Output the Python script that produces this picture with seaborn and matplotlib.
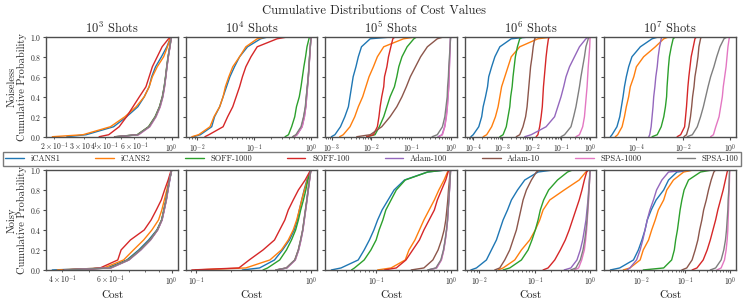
import numpy as np
import pandas as pd
import matplotlib
matplotlib.use("Agg")
import matplotlib.pyplot as plt
import seaborn as sns

sns.set_style("ticks")
plt.rcParams["font.family"] = ["serif"]
plt.rcParams["font.serif"] = ["cmr10", "DejaVu Serif"]
plt.rcParams["mathtext.fontset"] = "cm"
plt.rcParams["axes.formatter.use_mathtext"] = True
plt.rcParams["axes.unicode_minus"] = False

methods = ["iCANS1", "iCANS2", "SOFF-1000", "SOFF-100",
           "Adam-100", "Adam-10", "SPSA-1000", "SPSA-100"]
colors = ["#1f77b4", "#ff7f0e", "#2ca02c", "#d62728",
          "#9467bd", "#8c564b", "#e377c2", "#7f7f7f"]
shots = [3, 4, 5, 6, 7]

prob_levels = [0, 0.02, 0.1, 0.2, 0.3, 0.4, 0.5, 0.6, 0.7, 0.8, 0.9, 0.98, 1.0]

# log10(cost) at each probability level, per method
noiseless_1e3 = {
    "iCANS1": [-0.623, -0.508, -0.345, -0.268, -0.201, -0.163, -0.134, -0.119, -0.096, -0.061, -0.029, -0.010, 0.0],
    "iCANS2": [-0.709, -0.527, -0.364, -0.278, -0.211, -0.163, -0.134, -0.115, -0.086, -0.048, -0.025, -0.010, 0.0],
    "SOFF-1000": [-0.330, -0.205, -0.138, -0.099, -0.073, -0.056, -0.045, -0.037, -0.030, -0.022, -0.012, -0.004, 0.0],
    "SOFF-100": [-0.431, -0.374, -0.312, -0.268, -0.230, -0.192, -0.153, -0.134, -0.115, -0.086, -0.057, -0.019, 0.0],
    "Adam-100": [-0.320, -0.198, -0.131, -0.094, -0.069, -0.053, -0.043, -0.035, -0.028, -0.020, -0.011, -0.004, 0.0],
    "Adam-10": [-0.340, -0.203, -0.136, -0.097, -0.072, -0.055, -0.044, -0.036, -0.029, -0.021, -0.011, -0.004, 0.0],
    "SPSA-1000": [-0.325, -0.196, -0.130, -0.093, -0.068, -0.052, -0.042, -0.035, -0.028, -0.020, -0.010, -0.004, 0.0],
    "SPSA-100": [-0.335, -0.201, -0.134, -0.096, -0.071, -0.054, -0.044, -0.036, -0.029, -0.021, -0.011, -0.004, 0.0],
}
noiseless_1e4 = {
    "iCANS1": [-2.07, -1.95, -1.75, -1.70, -1.61, -1.55, -1.49, -1.43, -1.35, -1.26, -1.12, -0.89, -0.75],
    "iCANS2": [-2.10, -1.98, -1.78, -1.71, -1.61, -1.55, -1.51, -1.45, -1.38, -1.26, -1.15, -0.95, -0.78],
    "SOFF-1000": [-0.46, -0.40, -0.345, -0.29, -0.26, -0.21, -0.18, -0.155, -0.13, -0.10, -0.075, -0.04, -0.03],
    "SOFF-100": [-1.87, -1.80, -1.55, -1.47, -1.38, -1.32, -1.26, -1.21, -1.15, -1.06, -0.95, -0.60, -0.40],
    "Adam-100": [-0.31, -0.25, -0.16, -0.12, -0.095, -0.08, -0.065, -0.05, -0.038, -0.028, -0.016, -0.006, 0.0],
    "Adam-10": [-0.32, -0.26, -0.17, -0.13, -0.10, -0.086, -0.069, -0.052, -0.04, -0.029, -0.017, -0.006, 0.0],
    "SPSA-1000": [-0.30, -0.25, -0.16, -0.12, -0.095, -0.08, -0.065, -0.05, -0.038, -0.028, -0.016, -0.006, 0.0],
    "SPSA-100": [-0.33, -0.27, -0.18, -0.135, -0.105, -0.088, -0.07, -0.054, -0.041, -0.03, -0.018, -0.006, 0.0],
}
noiseless_1e5 = {
    "iCANS1": [-3.01, -2.92, -2.78, -2.67, -2.58, -2.54, -2.50, -2.46, -2.39, -2.33, -2.25, -2.03, -1.44],
    "iCANS2": [-2.80, -2.71, -2.54, -2.42, -2.33, -2.22, -2.14, -2.06, -1.95, -1.85, -1.69, -1.19, -0.85],
    "SOFF-1000": [-2.12, -1.91, -1.80, -1.69, -1.61, -1.53, -1.42, -1.36, -1.31, -1.23, -1.10, -0.93, -0.85],
    "SOFF-100": [-2.12, -1.95, -1.85, -1.81, -1.78, -1.74, -1.69, -1.67, -1.61, -1.57, -1.51, -1.46, -1.40],
    "Adam-100": [-0.32, -0.22, -0.155, -0.115, -0.088, -0.07, -0.052, -0.043, -0.035, -0.026, -0.017, -0.008, 0.0],
    "Adam-10": [-2.37, -2.03, -1.74, -1.53, -1.36, -1.23, -1.12, -1.02, -0.89, -0.76, -0.59, -0.34, -0.17],
    "SPSA-1000": [-0.30, -0.21, -0.15, -0.11, -0.085, -0.068, -0.05, -0.042, -0.034, -0.025, -0.017, -0.008, 0.0],
    "SPSA-100": [-0.47, -0.34, -0.21, -0.15, -0.12, -0.09, -0.08, -0.06, -0.05, -0.034, -0.017, -0.008, 0.0],
}
noiseless_1e6 = {
    "iCANS1": [-4.08, -4.00, -3.81, -3.71, -3.66, -3.58, -3.51, -3.47, -3.37, -3.26, -3.09, -2.70, -2.02],
    "iCANS2": [-3.66, -3.54, -3.37, -3.24, -3.15, -3.09, -3.03, -2.92, -2.81, -2.70, -2.41, -1.79, -1.22],
    "SOFF-1000": [-3.09, -2.98, -2.87, -2.81, -2.75, -2.72, -2.67, -2.64, -2.60, -2.56, -2.49, -2.41, -2.30],
    "SOFF-100": [-1.85, -1.79, -1.73, -1.68, -1.64, -1.62, -1.60, -1.57, -1.54, -1.51, -1.47, -1.43, -1.39],
    "Adam-100": [-2.24, -2.02, -1.51, -1.22, -1.11, -1.00, -0.91, -0.83, -0.71, -0.54, -0.37, -0.15, -0.03],
    "Adam-10": [-2.53, -2.41, -2.30, -2.21, -2.16, -2.13, -2.10, -2.07, -2.04, -1.99, -1.95, -1.90, -1.85],
    "SPSA-1000": [-0.49, -0.37, -0.26, -0.20, -0.17, -0.14, -0.11, -0.09, -0.07, -0.045, -0.02, -0.01, 0.0],
    "SPSA-100": [-1.00, -0.88, -0.66, -0.57, -0.49, -0.43, -0.37, -0.32, -0.26, -0.20, -0.15, -0.07, -0.02],
}
noiseless_1e7 = {
    "iCANS1": [-5.11, -5.04, -4.83, -4.71, -4.64, -4.57, -4.51, -4.43, -4.33, -4.19, -3.83, -3.33, -3.04],
    "iCANS2": [-4.90, -4.80, -4.61, -4.51, -4.43, -4.33, -4.26, -4.11, -4.00, -3.69, -3.19, -2.83, -2.61],
    "SOFF-1000": [-3.33, -3.11, -2.94, -2.83, -2.76, -2.71, -2.69, -2.66, -2.63, -2.59, -2.51, -2.43, -2.33],
    "SOFF-100": [-2.26, -2.11, -1.94, -1.90, -1.86, -1.83, -1.80, -1.76, -1.71, -1.66, -1.57, -1.50, -1.43],
    "Adam-100": [-3.47, -3.43, -3.37, -3.33, -3.29, -3.26, -3.21, -3.17, -3.11, -3.07, -3.01, -2.94, -2.90],
    "Adam-10": [-1.97, -1.86, -1.76, -1.69, -1.64, -1.60, -1.54, -1.50, -1.43, -1.37, -1.33, -1.26, -1.23],
    "SPSA-1000": [-0.83, -0.71, -0.61, -0.47, -0.40, -0.33, -0.29, -0.23, -0.17, -0.13, -0.09, -0.04, -0.01],
    "SPSA-100": [-1.83, -1.61, -1.40, -1.26, -1.14, -1.04, -0.94, -0.83, -0.69, -0.57, -0.43, -0.26, -0.11],
}

noisy_1e3 = {
    "iCANS1": [-0.434, -0.235, -0.163, -0.120, -0.084, -0.054, -0.036, -0.028, -0.020, -0.014, -0.007, -0.002, 0.0],
    "iCANS2": [-0.416, -0.247, -0.175, -0.139, -0.102, -0.072, -0.048, -0.036, -0.027, -0.018, -0.010, -0.002, 0.0],
    "SOFF-1000": [-0.385, -0.226, -0.160, -0.116, -0.080, -0.053, -0.037, -0.029, -0.021, -0.015, -0.008, -0.002, 0.0],
    "SOFF-100": [-0.330, -0.260, -0.196, -0.184, -0.150, -0.100, -0.075, -0.056, -0.038, -0.026, -0.013, -0.004, 0.0],
    "Adam-100": [-0.392, -0.220, -0.155, -0.112, -0.077, -0.051, -0.035, -0.027, -0.020, -0.014, -0.008, -0.002, 0.0],
    "Adam-10": [-0.395, -0.225, -0.158, -0.115, -0.079, -0.052, -0.036, -0.028, -0.020, -0.014, -0.008, -0.002, 0.0],
    "SPSA-1000": [-0.388, -0.221, -0.156, -0.113, -0.077, -0.051, -0.035, -0.027, -0.019, -0.013, -0.007, -0.002, 0.0],
    "SPSA-100": [-0.390, -0.223, -0.157, -0.114, -0.078, -0.052, -0.036, -0.028, -0.020, -0.014, -0.008, -0.002, 0.0],
}
noisy_1e4 = {
    "iCANS1": [-0.60, -0.45, -0.32, -0.25, -0.19, -0.148, -0.121, -0.104, -0.083, -0.062, -0.038, -0.009, 0.0],
    "iCANS2": [-1.01, -0.57, -0.36, -0.26, -0.20, -0.157, -0.127, -0.104, -0.083, -0.059, -0.033, -0.009, 0.0],
    "SOFF-1000": [-0.42, -0.38, -0.275, -0.216, -0.172, -0.136, -0.112, -0.092, -0.068, -0.047, -0.030, -0.009, 0.0],
    "SOFF-100": [-1.04, -0.63, -0.54, -0.42, -0.32, -0.275, -0.23, -0.20, -0.157, -0.112, -0.053, -0.015, 0.0],
    "Adam-100": [-0.300, -0.212, -0.140, -0.110, -0.090, -0.073, -0.061, -0.049, -0.037, -0.026, -0.015, -0.006, 0.0],
    "Adam-10": [-0.310, -0.218, -0.144, -0.113, -0.093, -0.075, -0.063, -0.051, -0.039, -0.028, -0.016, -0.006, 0.0],
    "SPSA-1000": [-0.298, -0.210, -0.138, -0.109, -0.089, -0.072, -0.060, -0.048, -0.036, -0.026, -0.014, -0.005, 0.0],
    "SPSA-100": [-0.305, -0.216, -0.142, -0.112, -0.092, -0.074, -0.062, -0.050, -0.038, -0.027, -0.015, -0.006, 0.0],
}
noisy_1e5 = {
    "iCANS1": [-1.60, -1.47, -1.24, -1.16, -1.09, -1.03, -0.98, -0.92, -0.84, -0.76, -0.62, -0.31, -0.07],
    "iCANS2": [-0.98, -0.80, -0.61, -0.56, -0.48, -0.42, -0.36, -0.29, -0.22, -0.16, -0.09, -0.044, -0.02],
    "SOFF-1000": [-1.33, -1.29, -1.16, -1.07, -1.00, -0.96, -0.91, -0.87, -0.80, -0.73, -0.61, -0.31, -0.07],
    "SOFF-100": [-0.89, -0.73, -0.60, -0.51, -0.42, -0.36, -0.29, -0.22, -0.18, -0.124, -0.067, -0.036, -0.018],
    "Adam-100": [-0.30, -0.19, -0.128, -0.095, -0.074, -0.056, -0.043, -0.035, -0.026, -0.017, -0.009, -0.004, 0.0],
    "Adam-10": [-0.53, -0.36, -0.24, -0.17, -0.124, -0.089, -0.067, -0.053, -0.04, -0.031, -0.018, -0.009, 0.0],
    "SPSA-1000": [-0.29, -0.19, -0.125, -0.093, -0.072, -0.055, -0.042, -0.034, -0.025, -0.017, -0.009, -0.004, 0.0],
    "SPSA-100": [-0.31, -0.20, -0.133, -0.098, -0.076, -0.058, -0.044, -0.036, -0.027, -0.018, -0.009, -0.004, 0.0],
}
noisy_1e6 = {
    "iCANS1": [-2.15, -2.05, -1.87, -1.78, -1.69, -1.63, -1.57, -1.49, -1.42, -1.31, -1.18, -0.94, -0.67],
    "iCANS2": [-1.66, -1.57, -1.36, -1.24, -1.09, -0.99, -0.91, -0.85, -0.73, -0.47, -0.20, -0.08, -0.036],
    "SOFF-1000": [-1.57, -1.45, -1.24, -1.12, -1.05, -0.99, -0.94, -0.90, -0.84, -0.75, -0.59, -0.41, -0.32],
    "SOFF-100": [-0.85, -0.76, -0.64, -0.54, -0.45, -0.38, -0.32, -0.26, -0.20, -0.15, -0.107, -0.066, -0.036],
    "Adam-100": [-0.47, -0.35, -0.24, -0.18, -0.137, -0.107, -0.078, -0.06, -0.042, -0.03, -0.018, -0.006, 0.0],
    "Adam-10": [-1.72, -1.63, -1.54, -1.45, -1.39, -1.33, -1.29, -1.25, -1.21, -1.15, -1.06, -0.97, -0.91],
    "SPSA-1000": [-0.29, -0.21, -0.155, -0.107, -0.084, -0.066, -0.054, -0.042, -0.03, -0.024, -0.012, -0.006, 0.0],
    "SPSA-100": [-0.35, -0.26, -0.18, -0.131, -0.10, -0.078, -0.06, -0.048, -0.036, -0.024, -0.012, -0.006, 0.0],
}
noisy_1e7 = {
    "iCANS1": [-2.69, -2.48, -2.17, -2.06, -1.98, -1.91, -1.86, -1.77, -1.66, -1.49, -1.38, -1.19, -0.82],
    "iCANS2": [-2.40, -2.25, -2.02, -1.95, -1.83, -1.76, -1.68, -1.61, -1.49, -1.42, -1.27, -1.04, -0.82],
    "SOFF-1000": [-1.95, -1.49, -1.31, -1.25, -1.22, -1.18, -1.15, -1.12, -1.08, -1.03, -0.93, -0.66, -0.40],
    "SOFF-100": [-0.85, -0.74, -0.60, -0.51, -0.44, -0.38, -0.32, -0.27, -0.21, -0.15, -0.10, -0.06, -0.04],
    "Adam-100": [-2.32, -2.25, -2.10, -2.02, -1.96, -1.91, -1.86, -1.80, -1.72, -1.65, -1.53, -1.38, -0.89],
    "Adam-10": [-1.08, -0.97, -0.85, -0.78, -0.72, -0.68, -0.63, -0.59, -0.53, -0.48, -0.42, -0.36, -0.32],
    "SPSA-1000": [-0.29, -0.196, -0.12, -0.083, -0.06, -0.045, -0.038, -0.03, -0.023, -0.015, -0.008, -0.004, 0.0],
    "SPSA-100": [-0.44, -0.32, -0.196, -0.136, -0.098, -0.075, -0.06, -0.045, -0.038, -0.023, -0.015, -0.008, 0.0],
}

rows = [
    ("Noiseless", [noiseless_1e3, noiseless_1e4, noiseless_1e5, noiseless_1e6, noiseless_1e7]),
    ("Noisy", [noisy_1e3, noisy_1e4, noisy_1e5, noisy_1e6, noisy_1e7]),
]

fig, axes = plt.subplots(2, 5, figsize=(7.47, 3.04), dpi=100, sharey=True)
fig.subplots_adjust(left=0.062, right=0.985, top=0.879, bottom=0.112,
                    wspace=0.062, hspace=0.333)

for r, (row_name, panels) in enumerate(rows):
    for c, panel in enumerate(panels):
        ax = axes[r, c]
        frame = pd.concat([
            pd.DataFrame({"cost": np.power(10.0, panel[m]), "prob": prob_levels, "method": m})
            for m in methods
        ], ignore_index=True)
        sns.lineplot(data=frame, x="cost", y="prob", hue="method", hue_order=methods,
                     palette=colors, estimator=None, sort=False, linewidth=1.0,
                     ax=ax, legend=(r == 0 and c == 0))
        ax.set_xscale("log")
        ax.set_ylim(0, 1)
        ax.set_yticks([0, 0.2, 0.4, 0.6, 0.8, 1.0])
        ax.tick_params(which="both", labelsize=5.5, color="0.3", pad=1.2)
        ax.tick_params(which="major", length=2.5, width=0.8)
        ax.tick_params(which="minor", length=1.5, width=0.6)
        for sp in ax.spines.values():
            sp.set_color("0.3")
            sp.set_linewidth(1.0)
        ax.set_xlabel("Cost" if r == 1 else "", fontsize=8, labelpad=2)
        ax.set_ylabel("")
        if r == 0:
            ax.set_title(f"$10^{shots[c]}$ Shots", fontsize=9, pad=3)
    axes[r, 0].set_ylabel(f"{row_name}\nCumulative Probability", fontsize=7.5, labelpad=2,
                          linespacing=1.0)

handles, labels = axes[0, 0].get_legend_handles_labels()
axes[0, 0].get_legend().remove()
fig.legend(handles, labels, loc="lower left", bbox_to_anchor=(0.004, 0.455, 0.988, 0.049),
           ncol=8, mode="expand", fontsize=6, frameon=True, fancybox=False,
           edgecolor="0.35", borderaxespad=0, borderpad=0.3, handlelength=2.2)

fig.suptitle("Cumulative Distributions of Cost Values", fontsize=9, y=0.985)
fig.savefig("out.png", dpi=100)
